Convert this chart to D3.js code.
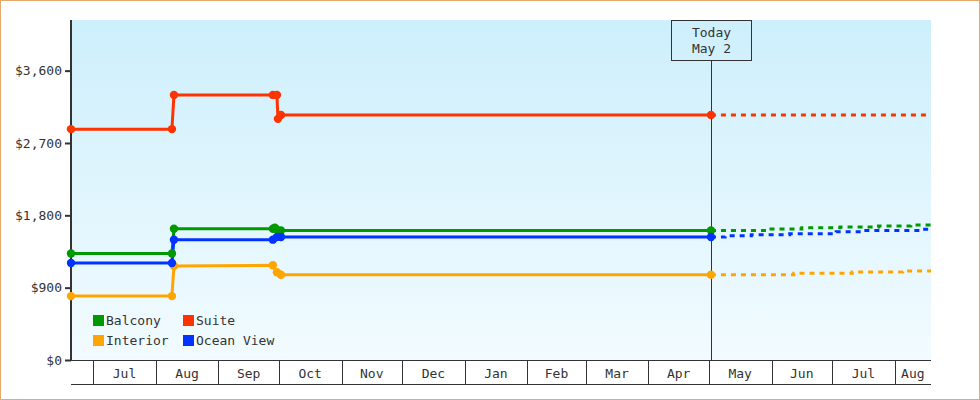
<!DOCTYPE html>
<html><head><meta charset="utf-8">
<script src="https://cdn.jsdelivr.net/npm/d3@7"></script>
<style>
body{margin:0;background:#fff}
svg text{font-family:"DejaVu Sans Mono",monospace;font-size:13px;fill:#333}
</style>
</head><body>
<svg id="chart" width="980" height="400"></svg>
<script>
// ---- data ----
const seriesNames = ["Balcony", "Suite", "Interior", "Ocean View"];
const seriesColors = ["#009900", "#ff3300", "#ffa500", "#0033ff"];

const balconyHistory = [["2023-06-20",1325],["2023-08-09",1325],["2023-08-10",1633],["2023-09-28",1633],["2023-09-29",1645],["2023-09-30",1622],["2023-10-02",1612],["2024-05-02",1612]];
const suiteHistory = [["2023-06-20",2872],["2023-08-09",2872],["2023-08-10",3298],["2023-09-28",3298],["2023-09-30",3298],["2023-09-30T12:00",3000],["2023-10-02",3049],["2024-05-02",3049]];
const interiorHistory = [["2023-06-20",795],["2023-08-09",795],["2023-08-10",1170],["2023-09-28",1178],["2023-09-30",1091],["2023-10-02",1060],["2024-05-02",1060]];
const oceanViewHistory = [["2023-06-20",1207],["2023-08-09",1207],["2023-08-10",1497],["2023-09-28",1497],["2023-09-30",1530],["2023-10-02",1530],["2024-05-02",1530]];

const balconyForecast = [["2024-05-02",1612],["2024-05-31",1630],["2024-06-16",1646],["2024-07-05",1654],["2024-07-24",1667],["2024-08-09",1679],["2024-08-19",1679]];
const suiteForecast = [["2024-05-02",3049],["2024-08-19",3049]];
const interiorForecast = [["2024-05-02",1060],["2024-06-12",1078],["2024-07-11",1095],["2024-08-05",1108],["2024-08-19",1108]];
const oceanViewForecast = [["2024-05-02",1530],["2024-05-09",1546],["2024-05-22",1559],["2024-06-10",1570],["2024-07-03",1596],["2024-07-16",1612],["2024-08-15",1627],["2024-08-19",1627]];

const yTickValues = [0, 900, 1800, 2700, 3600];
const xDomain = ["2023-06-20", "2024-08-19"];
const yMax = 4230;
const todayDate = "2024-05-02";
const todayLabel = ["Today", "May 2"];

// ---- layout ----
const svg = d3.select("#chart");
const W = 980, H = 400;
const m = {left: 71, right: 49, top: 20, bottom: 40};
const pw = W - m.left - m.right, ph = H - m.top - m.bottom;
const parse = s => new Date(s.length > 10 ? s : s + "T00:00");

const x = d3.scaleTime().domain(xDomain.map(parse)).range([m.left, m.left + pw]);
const y = d3.scaleLinear().domain([0, yMax]).range([m.top + ph, m.top]);

// outer border
svg.append("rect").attr("x", 0.5).attr("y", 0.5).attr("width", W - 1).attr("height", H - 1)
  .attr("fill", "#fff").attr("stroke", "#e6ab6b");

// background gradient
const defs = svg.append("defs");
const grad = defs.append("linearGradient").attr("id", "bg").attr("x1", 0).attr("y1", 0).attr("x2", 0).attr("y2", 1);
grad.append("stop").attr("offset", "0%").attr("stop-color", "#cdeffc");
grad.append("stop").attr("offset", "100%").attr("stop-color", "#f2fbff");
svg.append("rect").attr("x", m.left).attr("y", m.top).attr("width", pw).attr("height", ph).attr("fill", "url(#bg)");

defs.append("clipPath").attr("id", "clip").append("rect")
  .attr("x", m.left - 6).attr("y", m.top).attr("width", pw + 6).attr("height", ph + 6);

// x axis band: month cells
const axisY = m.top + ph;
const xg = svg.append("g");
const [d0, d1] = x.domain();
const bounds = d3.timeMonth.range(d3.timeMonth.ceil(d0), d1);
xg.append("line").attr("x1", m.left).attr("x2", m.left + pw).attr("y1", axisY + 0.5).attr("y2", axisY + 0.5).attr("stroke", "#333");
xg.append("line").attr("x1", m.left).attr("x2", m.left + pw).attr("y1", axisY + 24.5).attr("y2", axisY + 24.5).attr("stroke", "#333");
xg.selectAll("line.sep").data(bounds).join("line").attr("class", "sep")
  .attr("x1", d => Math.round(x(d)) + 0.5).attr("x2", d => Math.round(x(d)) + 0.5)
  .attr("y1", axisY).attr("y2", axisY + 24).attr("stroke", "#333");
const cells = [d0, ...bounds].map((s, i, arr) => [s, i + 1 < arr.length ? arr[i + 1] : d1]);
xg.selectAll("text").data(cells.filter(c => x(c[1]) - x(c[0]) > 30)).join("text")
  .attr("x", c => (x(c[0]) + x(c[1])) / 2).attr("y", axisY + 13).attr("dy", "0.35em")
  .attr("text-anchor", "middle").text(c => d3.timeFormat("%b")(c[0]));

// y axis
const yAxis = d3.axisLeft(y).tickValues(yTickValues).tickFormat(d3.format("$,")).tickSize(6).tickPadding(3);
const yg = svg.append("g").attr("transform", `translate(${m.left},0)`).call(yAxis);
yg.select(".domain").remove();
yg.selectAll(".tick line").attr("stroke", "#333").attr("stroke-width", 2);
yg.selectAll(".tick text").style("font-family", '"DejaVu Sans Mono",monospace').style("font-size", "13px").attr("fill", "#333");
svg.append("line").attr("x1", m.left).attr("x2", m.left).attr("y1", m.top).attr("y2", axisY + 1)
  .attr("stroke", "#333").attr("stroke-width", 2);

// today marker
const tx = Math.round(x(parse(todayDate))) + 0.5;
svg.append("line").attr("x1", tx).attr("x2", tx).attr("y1", m.top + 41).attr("y2", axisY).attr("stroke", "#333");
svg.append("rect").attr("x", tx - 40).attr("y", m.top + 0.5).attr("width", 80).attr("height", 40)
  .attr("fill", "none").attr("stroke", "#333");
svg.append("text").attr("x", tx).attr("y", m.top + 12).attr("dy", "0.35em").attr("text-anchor", "middle").text(todayLabel[0]);
svg.append("text").attr("x", tx).attr("y", m.top + 28).attr("dy", "0.35em").attr("text-anchor", "middle").text(todayLabel[1]);

// series
const histories = [balconyHistory, suiteHistory, interiorHistory, oceanViewHistory];
const forecasts = [balconyForecast, suiteForecast, interiorForecast, oceanViewForecast];
const plot = svg.append("g").attr("clip-path", "url(#clip)");
const lineLin = d3.line().x(d => x(parse(d[0]))).y(d => y(d[1]));
const lineStep = d3.line().x(d => x(parse(d[0]))).y(d => y(d[1])).curve(d3.curveStepAfter);

forecasts.forEach((f, i) => {
  plot.append("path").datum(f).attr("d", lineStep).attr("fill", "none")
    .attr("stroke", seriesColors[i]).attr("stroke-width", 3).attr("stroke-dasharray", "5,5");
});
histories.forEach((h, i) => {
  plot.append("path").datum(h).attr("d", lineLin).attr("fill", "none")
    .attr("stroke", seriesColors[i]).attr("stroke-width", 3).attr("stroke-linejoin", "round");
});
histories.forEach((h, i) => {
  plot.selectAll(null).data(h).join("circle")
    .attr("cx", d => x(parse(d[0]))).attr("cy", d => y(d[1])).attr("r", 4.2).attr("fill", seriesColors[i]);
});

// legend
const legendPos = [[93, 315], [183, 315], [93, 335], [183, 335]];
const lg = svg.append("g");
seriesNames.forEach((n, i) => {
  lg.append("rect").attr("x", legendPos[i][0]).attr("y", legendPos[i][1]).attr("width", 11).attr("height", 11).attr("fill", seriesColors[i]);
  lg.append("text").attr("x", legendPos[i][0] + 13).attr("y", legendPos[i][1] + 5.5).attr("dy", "0.35em").text(n);
});
</script>
</body></html>
